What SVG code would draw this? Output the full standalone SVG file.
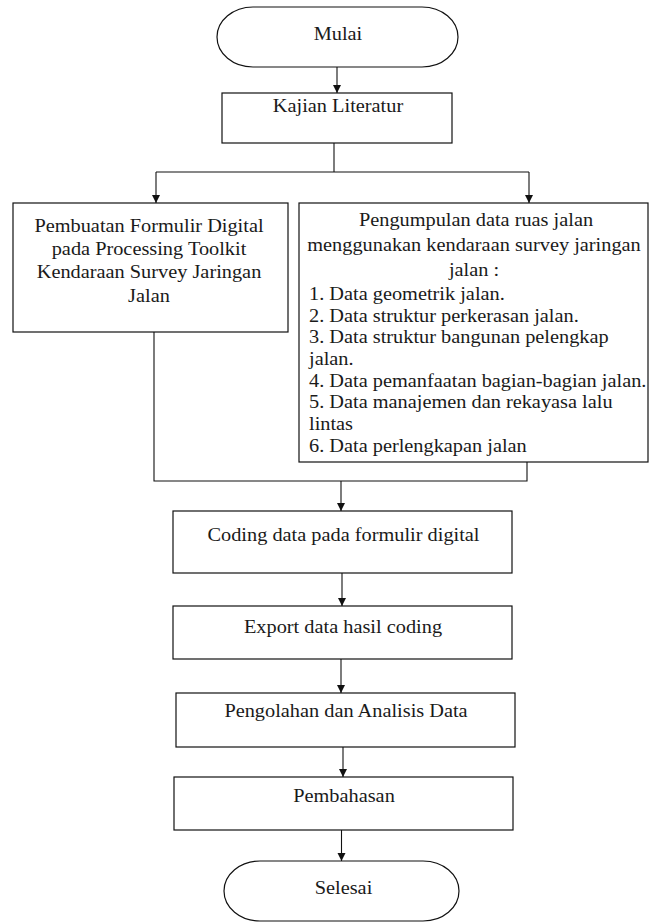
<svg xmlns="http://www.w3.org/2000/svg" width="650" height="922" viewBox="0 0 650 922">
<defs>
<style>
.box{fill:#fff;stroke:#111;stroke-width:1.2}
.t{font-family:"Liberation Serif","Times New Roman",serif;font-size:18px;fill:#1a1a1a}
.c{text-anchor:middle}
.ln{fill:none;stroke:#111;stroke-width:1.1}
</style>
<marker id="ah" viewBox="0 0 8 10" refX="8" refY="5" markerWidth="8" markerHeight="10" markerUnits="userSpaceOnUse" orient="auto">
<path d="M0,1 L8,5 L0,9 Z" fill="#111"/>
</marker>
</defs>
<rect width="650" height="922" fill="#fff"/>
<g id="connectors">
<line class="ln" x1="337" y1="67" x2="337" y2="93" marker-end="url(#ah)"/>
<polyline class="ln" points="334,143 334,172"/>
<polyline class="ln" points="156,172 529,172"/>
<line class="ln" x1="156" y1="172" x2="156" y2="203" marker-end="url(#ah)"/>
<line class="ln" x1="529" y1="172" x2="529" y2="203" marker-end="url(#ah)"/>
<polyline class="ln" points="154,332 154,481 527,481 527,462"/>
<line class="ln" x1="341" y1="481" x2="341" y2="511" marker-end="url(#ah)"/>
<line class="ln" x1="342" y1="573" x2="342" y2="606" marker-end="url(#ah)"/>
<line class="ln" x1="341" y1="659" x2="341" y2="693" marker-end="url(#ah)"/>
<line class="ln" x1="343" y1="747" x2="343" y2="777" marker-end="url(#ah)"/>
<line class="ln" x1="341.5" y1="830" x2="341.5" y2="861" marker-end="url(#ah)"/>
</g>
<g id="mulai">
<rect class="box" x="217" y="7" width="241" height="60" rx="36" ry="30"/>
<text class="t c" transform="translate(338 40) scale(1.13 1)">Mulai</text>
</g>
<g id="kajian">
<rect class="box" x="222" y="93" width="230" height="50"/>
<text class="t c" transform="translate(338 112) scale(1.13 1)">Kajian Literatur</text>
</g>
<g id="pembuatan">
<rect class="box" x="13" y="203" width="275" height="129"/>
<text class="t c" transform="translate(149 231.5) scale(1.13 1)">Pembuatan Formulir Digital</text>
<text class="t c" transform="translate(149 255) scale(1.13 1)">pada Processing Toolkit</text>
<text class="t c" transform="translate(149 278.3) scale(1.13 1)">Kendaraan Survey Jaringan</text>
<text class="t c" transform="translate(149 301.7) scale(1.13 1)">Jalan</text>
</g>
<g id="pengumpulan">
<rect class="box" x="299" y="203" width="349" height="259"/>
<text class="t c" transform="translate(476 226) scale(1.13 1)">Pengumpulan data ruas jalan</text>
<text class="t c" transform="translate(474 251) scale(1.13 1)">menggunakan kendaraan survey jaringan</text>
<text class="t c" transform="translate(474 276) scale(1.13 1)">jalan :</text>
<text class="t" transform="translate(309 300) scale(1.13 1)">1. Data geometrik jalan.</text>
<text class="t" transform="translate(309 321.7) scale(1.13 1)">2. Data struktur perkerasan jalan.</text>
<text class="t" transform="translate(309 343.3) scale(1.13 1)">3. Data struktur bangunan pelengkap</text>
<text class="t" transform="translate(309 365) scale(1.13 1)">jalan.</text>
<text class="t" transform="translate(309 386.7) scale(1.13 1)">4. Data pemanfaatan bagian-bagian jalan.</text>
<text class="t" transform="translate(309 408.3) scale(1.13 1)">5. Data manajemen dan rekayasa lalu</text>
<text class="t" transform="translate(309 430) scale(1.13 1)">lintas</text>
<text class="t" transform="translate(309 451.7) scale(1.13 1)">6. Data perlengkapan jalan</text>
</g>
<g id="coding">
<rect class="box" x="173" y="511" width="339" height="62"/>
<text class="t c" transform="translate(343.5 541) scale(1.13 1)">Coding data pada formulir digital</text>
</g>
<g id="export">
<rect class="box" x="173" y="606" width="339" height="53"/>
<text class="t c" transform="translate(343 633) scale(1.13 1)">Export data hasil coding</text>
</g>
<g id="pengolahan">
<rect class="box" x="176" y="693" width="339" height="54"/>
<text class="t c" transform="translate(346 717.3) scale(1.13 1)">Pengolahan dan Analisis Data</text>
</g>
<g id="pembahasan">
<rect class="box" x="174" y="777" width="339" height="53"/>
<text class="t c" transform="translate(344 801.7) scale(1.13 1)">Pembahasan</text>
</g>
<g id="selesai">
<rect class="box" x="224" y="861" width="235" height="60" rx="36" ry="30"/>
<text class="t c" transform="translate(343.5 894) scale(1.13 1)">Selesai</text>
</g>
</svg>
